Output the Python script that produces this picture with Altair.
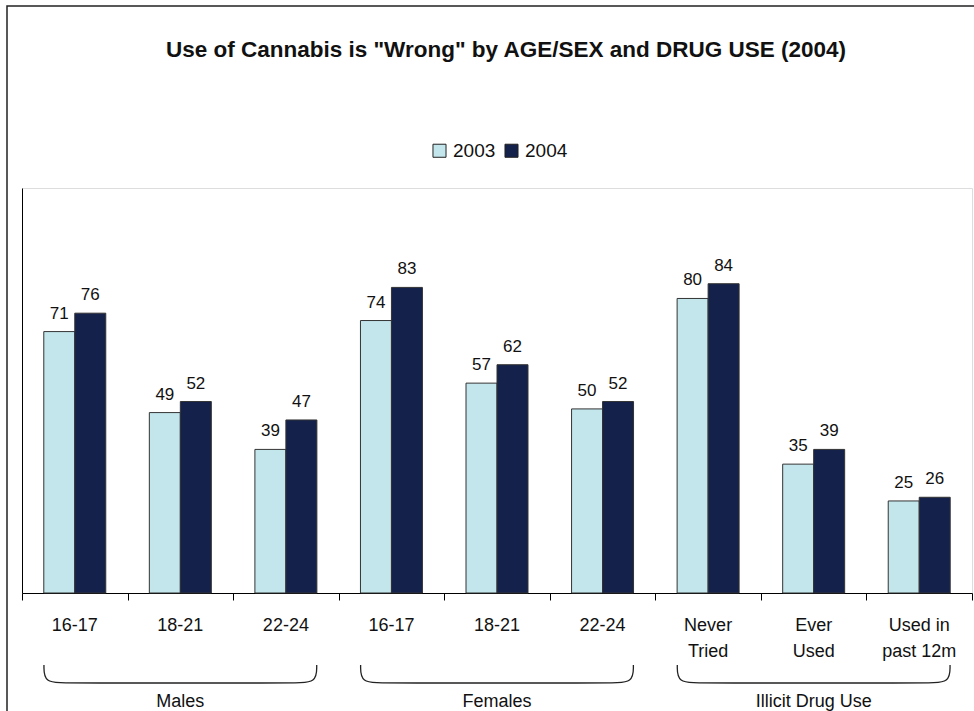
import altair as alt
import pandas as pd

# Categories (unique keys) and what is printed under each pair of bars
cat_keys = ["m1", "m2", "m3", "f1", "f2", "f3", "d1", "d2", "d3"]
cat_labels = ["16-17", "18-21", "22-24", "16-17", "18-21", "22-24",
              "Never\nTried", "Ever\nUsed", "Used in\npast 12m"]
years = ["2003", "2004"]
v2003 = [71, 49, 39, 74, 57, 50, 80, 35, 25]
v2004 = [76, 52, 47, 83, 62, 52, 84, 39, 26]

# Grouping brackets under the axis
group_names = ["Males", "Females", "Illicit Drug Use"]
group_first = [0, 3, 6]   # index of first category in each group
group_mid = ["m2", "f2", "d2"]

TITLE = 'Use of Cannabis is "Wrong" by AGE/SEX and DRUG USE (2004)'

W, H = 950, 405
FONT = "Liberation Sans, Arial, Helvetica, sans-serif"
LIGHT, DARK = "#C3E6EC", "#14214B"
INK = "#111111"

bars_df = pd.DataFrame(
    [{"key": k, "year": "2003", "value": a} for k, a in zip(cat_keys, v2003)]
    + [{"key": k, "year": "2004", "value": b} for k, b in zip(cat_keys, v2004)]
)
cats_df = pd.DataFrame({"key": cat_keys, "label": cat_labels})
groups_df = pd.DataFrame({"key": group_mid, "label": group_names})
title_df = pd.DataFrame({"t": [TITLE]})

# Bracket outline, in band units along x (0..9) and 0 (top) .. 1 (bottom)
BAR_INSET = 0.208   # gap between band edge and first bar, as a fraction of a band
CORNER = 0.22
rows = []
for g, first in zip(group_names, group_first):
    s = first + BAR_INSET
    e = first + 3 - BAR_INSET
    pts = [(s, 0), (s, 1), (s + CORNER, 1), (e - CORNER, 1), (e, 1), (e, 0)]
    for i, (px, py) in enumerate(pts):
        rows.append({"group": g, "order": i, "bx": px, "by": py})
bracket_df = pd.DataFrame(rows)

x_band = alt.Scale(type="band", domain=cat_keys, paddingInner=0, paddingOuter=0)
off_scale = alt.Scale(type="band", domain=years, paddingInner=0, paddingOuter=0.703)
y_scale = alt.Scale(domain=[0, 110], nice=False, zero=True)

bars = alt.Chart(bars_df).mark_bar(stroke="#333333", strokeWidth=1).encode(
    x=alt.X("key:N", scale=x_band, sort=cat_keys,
            axis=alt.Axis(labels=False, title=None, ticks=True, tickBand="extent",
                          tickSize=7, tickColor="#000000", domainColor="#000000",
                          grid=False, domainWidth=1, tickWidth=1)),
    xOffset=alt.XOffset("year:N", scale=off_scale),
    y=alt.Y("value:Q", scale=y_scale,
            axis=alt.Axis(labels=False, ticks=False, grid=False, title=None,
                          domainColor="#000000", domainWidth=1)),
    color=alt.Color("year:N", scale=alt.Scale(domain=years, range=[LIGHT, DARK]),
                    legend=alt.Legend(title=None, orient="none", direction="horizontal",
                                      legendX=408, legendY=-47,
                                      symbolType="square", symbolSize=170,
                                      symbolStrokeColor="#222222", symbolStrokeWidth=1,
                                      labelFont=FONT, labelFontSize=19,
                                      labelColor=INK, labelOffset=4,
                                      columnPadding=6)),
)

values = alt.Chart(bars_df).mark_text(
    font=FONT, fontSize=17, color=INK, baseline="bottom", dy=-9
).encode(
    x=alt.X("key:N", scale=x_band, sort=cat_keys, axis=None),
    xOffset=alt.XOffset("year:N", scale=off_scale),
    y=alt.Y("value:Q", scale=y_scale, axis=None),
    text=alt.Text("value:Q"),
)

cat_text = alt.Chart(cats_df).mark_text(
    font=FONT, fontSize=18, color=INK, baseline="top", lineBreak="\n",
    lineHeight=26
).encode(
    x=alt.X("key:N", scale=x_band, sort=cat_keys, axis=None),
    y=alt.value(H + 24),
    text="label:N",
)

group_text = alt.Chart(groups_df).mark_text(
    font=FONT, fontSize=18, color=INK, baseline="top"
).encode(
    x=alt.X("key:N", scale=x_band, sort=cat_keys, axis=None),
    y=alt.value(H + 100),
    text="label:N",
)

brackets = alt.Chart(bracket_df).mark_line(
    interpolate="basis", color="#222222", strokeWidth=1.3
).encode(
    x=alt.X("bx:Q", scale=alt.Scale(domain=[0, 9], range=[0, W], nice=False, zero=False), axis=None),
    y=alt.Y("by:Q", scale=alt.Scale(domain=[0, 1], range=[H + 72, H + 90], nice=False, zero=False), axis=None),
    detail="group:N",
    order="order:Q",
)

title = alt.Chart(title_df).mark_text(
    font=FONT, fontSize=22.5, fontWeight="bold", color=INK, baseline="alphabetic"
).encode(
    x=alt.value(W / 2 + 9),
    y=alt.value(-131),
    text="t:N",
)

frame_df = pd.DataFrame({"f": [0]})
frame = alt.Chart(frame_df).mark_rect(fill=None, stroke="#222222", strokeWidth=1.5).encode(
    x=alt.value(-15), x2=alt.value(W + 20), y=alt.value(-182), y2=alt.value(H + 200)
)

chart = alt.layer(frame, title, bars, values, cat_text, group_text, brackets).resolve_scale(
    x="independent", y="independent"
).properties(
    width=W,
    height=H,
    autosize=alt.AutoSizeParams(type="none"),
    padding={"left": 22, "top": 188, "right": 2, "bottom": 118},
).configure_view(
    stroke="#9a9a9a", strokeWidth=1.5
).configure(background="#ffffff")

chart.save("out.html", embed_options={"renderer": "svg", "actions": False})
